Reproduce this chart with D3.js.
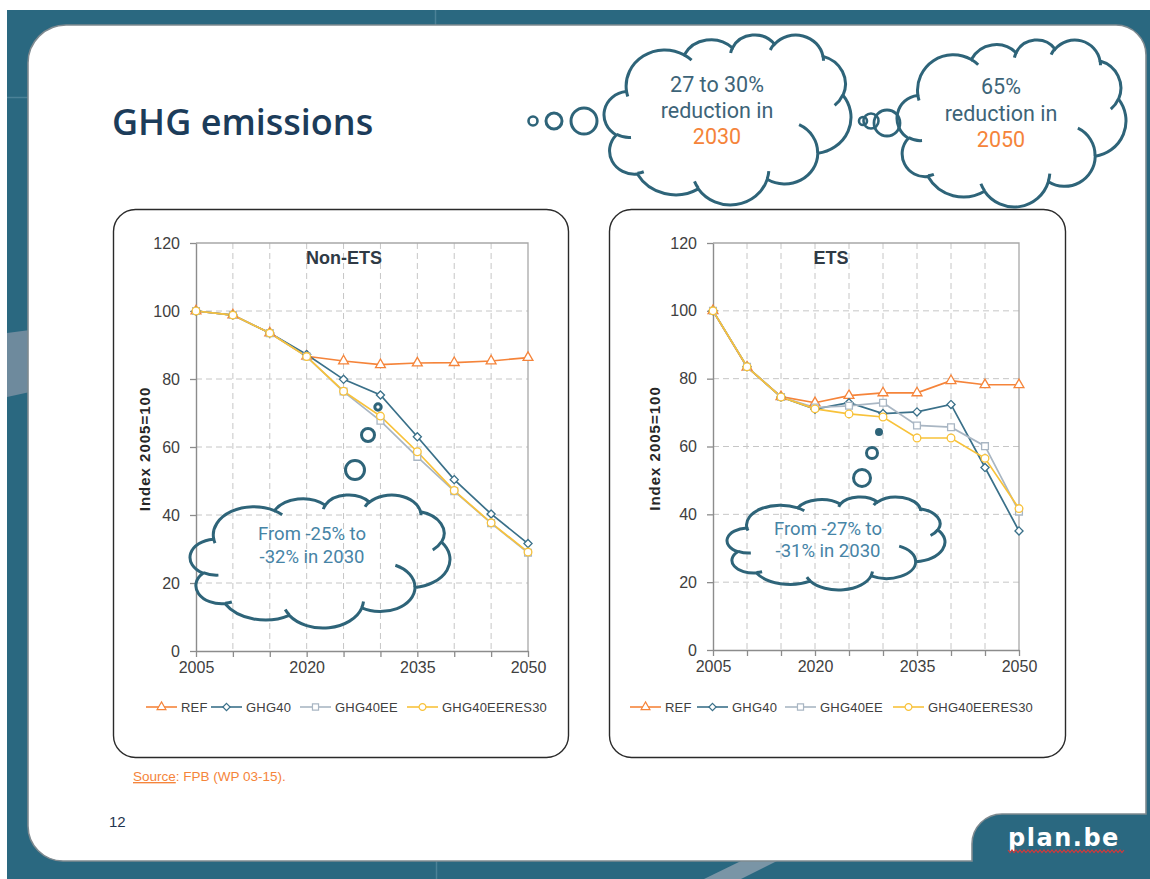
<!DOCTYPE html>
<html><head><meta charset="utf-8">
<script src="https://cdn.jsdelivr.net/npm/d3@7"></script>
<style>body{margin:0;background:#fff}svg{display:block}</style>
</head><body>
<svg id="c" width="1150" height="879"></svg>
<script>
// ---------------- DATA ----------------
const years = ["2005","2010","2015","2020","2025","2030","2035","2040","2045","2050"];
const xTickLabels = ["2005","2020","2035","2050"];
const yTicks = [0,20,40,60,80,100,120];
const seriesNames = ["REF","GHG40","GHG40EE","GHG40EERES30"];

const nonEtsREF          = [100, 98.8, 93.5, 86.7, 85.3, 84.2, 84.7, 84.8, 85.3, 86.3];
const nonEtsGHG40        = [100, 98.8, 93.5, 87.2, 79.9, 75.3, 63.0, 50.4, 40.3, 31.6];
const nonEtsGHG40EE      = [100, 98.8, 93.5, 86.6, 76.3, 67.7, 57.1, 47.0, 37.6, 28.9];
const nonEtsGHG40EERES30 = [100, 98.8, 93.5, 86.6, 76.4, 69.1, 58.6, 47.2, 37.7, 29.1];

const etsREF             = [100, 83.4, 74.7, 72.9, 75.0, 75.8, 75.8, 79.4, 78.2, 78.2];
const etsGHG40           = [100, 83.5, 74.6, 71.0, 72.9, 69.7, 70.2, 72.4, 53.8, 35.1];
const etsGHG40EE         = [100, 83.5, 74.6, 71.5, 72.0, 72.9, 66.2, 65.7, 60.1, 40.8];
const etsGHG40EERES30    = [100, 83.5, 74.6, 71.1, 69.6, 68.7, 62.5, 62.5, 56.5, 41.7];

const chartTitles = ["Non-ETS", "ETS"];
const yAxisTitle = "Index 2005=100";
const pageTitle = "GHG emissions";
const nonEtsNote = ["From -25% to", "-32% in 2030"];
const etsNote = ["From -27% to", "-31% in 2030"];
const cloud2030 = ["27 to 30%", "reduction in", "2030"];
const cloud2050 = ["65%", "reduction in", "2050"];

// ---------------- STYLE ----------------
const TEAL = "#2a6880";
const CLOUD_STROKE = "#2e6479";
const colors = {REF:"#f5843a", GHG40:"#3a7089", GHG40EE:"#a9b6c3", GHG40EERES30:"#f8c23a"};
const symbols = {REF:d3.symbolTriangle, GHG40:(d3.symbolDiamond2||d3.symbolDiamond), GHG40EE:d3.symbolSquare, GHG40EERES30:d3.symbolCircle};
const symSize = {REF:42, GHG40:42, GHG40EE:46, GHG40EERES30:46};

const svg = d3.select("#c");

// ---------------- BACKGROUND ----------------
svg.append("rect").attr("x",0).attr("y",0).attr("width",1150).attr("height",879).attr("fill","#fff");
svg.append("rect").attr("x",7).attr("y",10).attr("width",1143).attr("height",869).attr("fill",TEAL);
svg.append("path").attr("d","M7,333 L30,330 L30,392 L7,397 Z").attr("fill","#6e8a9d");
svg.append("line").attr("x1",7).attr("x2",30).attr("y1",97.5).attr("y2",97.5).attr("stroke","#4b8197").attr("stroke-width",1.5);
svg.append("line").attr("x1",435.5).attr("x2",435.5).attr("y1",10).attr("y2",26).attr("stroke","#4b8197").attr("stroke-width",1.5);
svg.append("line").attr("x1",436.5).attr("x2",436.5).attr("y1",860).attr("y2",879).attr("stroke","#4b8197").attr("stroke-width",1.5);
svg.append("path").attr("d","M741,861 L777,861 L741,879 L704,879 Z").attr("fill","#7a95a6");

// card
(function(){
  const L=28, T=25, R=1146, B=861, rTL=38, rTR=30, rBL=35, tabX=972, tabY=814, rT=30;
  const d = `M${L},${T+rTL} A${rTL},${rTL} 0 0 1 ${L+rTL},${T} L${R-rTR},${T} A${rTR},${rTR} 0 0 1 ${R},${T+rTR}
   L${R},${tabY} L${tabX+rT},${tabY} A${rT},${rT} 0 0 0 ${tabX},${tabY+rT} L${tabX},${B} L${L+rBL},${B}
   A${rBL},${rBL} 0 0 1 ${L},${B-rBL} Z`;
  svg.append("path").attr("d",d).attr("fill","#fff").attr("stroke","#7f8a90").attr("stroke-width",1.6);
})();

svg.append("text").attr("x",112).attr("y",135).text(pageTitle)
  .attr("font-family","'Open Sans', sans-serif").attr("font-weight",600).attr("font-size",36)
  .attr("fill","#1c3c5a");

// ---------------- CLOUD SHAPE ----------------
const CLOUD_MAIN = [[6753,9190,-11429249,7426832],[5333,7267,-8646143,5396714],[4365,5945,-8748475,5983381],
 [4857,6595,-7859164,7034504],[5333,7273,-4722533,6541615],[6775,9220,-2776035,7816140],[5785,7867,37501,6842000],
 [6752,9215,1347096,6910353],[7720,10543,3974558,4542661],[4360,5918,-16496525,8804134],[4345,5945,-14809710,9151131]];
const CLOUD_FOLDS = [[4693,26177,4345,5945,5204520,1585770],[6928,34899,4360,5918,4416628,686848],
 [16478,39090,6752,9215,8257449,844866],[28827,34751,6752,9215,387196,959901],[34129,22954,5785,7867,-4217541,4255042],
 [41798,15354,5333,7273,1819082,1665090],[38324,5426,4857,6595,-824660,891534],[29078,3952,4857,6595,-8950887,1091722],
 [22141,4720,4365,5945,-9809656,1061181],[14000,5192,6753,9190,-4002417,739161],[4127,15789,6753,9190,9459261,711490]];
function arcSeg(px,py,wR,hR,st,sw){
  const a1=st/60000*Math.PI/180, a2=(st+sw)/60000*Math.PI/180;
  const t1=Math.atan2(wR*Math.sin(a1), hR*Math.cos(a1));
  const t2=Math.atan2(wR*Math.sin(a2), hR*Math.cos(a2));
  const cx=px-wR*Math.cos(t1), cy=py-hR*Math.sin(t1);
  const ex=cx+wR*Math.cos(t2), ey=cy+hR*Math.sin(t2);
  const large=Math.abs(sw/60000)>180?1:0, sweep=sw>0?1:0;
  return {d:`A${wR},${hR} 0 ${large} ${sweep} ${ex.toFixed(1)},${ey.toFixed(1)}`, x:ex, y:ey};
}
function cloudMainD(){
  let x=3900,y=14370,d=`M${x},${y}`;
  for(const a of CLOUD_MAIN){const s=arcSeg(x,y,...a); d+=s.d; x=s.x; y=s.y;}
  return d+"Z";
}
function cloudFoldD(){
  let d="";
  for(const f of CLOUD_FOLDS){const s=arcSeg(f[0],f[1],f[2],f[3],f[4],f[5]); d+=`M${f[0]},${f[1]}`+s.d;}
  return d;
}
function drawCloud(box, fill, sw){
  const g = svg.append("g");
  const main = g.append("path").attr("d",cloudMainD()).attr("fill",fill).attr("stroke",CLOUD_STROKE)
     .attr("stroke-width",sw).attr("vector-effect","non-scaling-stroke");
  g.append("path").attr("d",cloudFoldD()).attr("fill","none").attr("stroke",CLOUD_STROKE)
     .attr("stroke-width",sw).attr("vector-effect","non-scaling-stroke");
  const bb = main.node().getBBox();
  const sx = box.w/bb.width, sy = box.h/bb.height;
  g.attr("transform",`translate(${box.x - bb.x*sx},${box.y - bb.y*sy}) scale(${sx},${sy})`);
  return g;
}
function bubble(cx,cy,r,sw,fill){
  svg.append("circle").attr("cx",cx).attr("cy",cy).attr("r",r).attr("fill",fill||"none")
    .attr("stroke",CLOUD_STROKE).attr("stroke-width",sw);
}

// ---------------- PANELS ----------------
svg.append("rect").attr("x",113.5).attr("y",209.5).attr("width",455).attr("height",548).attr("rx",22)
  .attr("fill","#fff").attr("stroke","#2a2a2a").attr("stroke-width",1.4);
svg.append("rect").attr("x",609.5).attr("y",209.5).attr("width",456).attr("height",548).attr("rx",22)
  .attr("fill","#fff").attr("stroke","#2a2a2a").attr("stroke-width",1.4);

// ---------------- CHARTS ----------------
const FONT = "'Liberation Sans', Arial, sans-serif";
function drawChart(cfg){
  const g = svg.append("g");
  const x = d3.scalePoint().domain(years).range([cfg.x0, cfg.x1]);
  const y = d3.scaleLinear().domain([0,120]).range([cfg.yb, cfg.yt]);
  g.selectAll(".hg").data(yTicks.filter(v=>v>0&&v<120)).join("line")
    .attr("x1",cfg.x0).attr("x2",cfg.x1).attr("y1",d=>y(d)).attr("y2",d=>y(d))
    .attr("stroke","#c6c6c6").attr("stroke-width",1).attr("stroke-dasharray","6,4");
  g.selectAll(".vg").data(years.slice(1,-1)).join("line")
    .attr("x1",d=>x(d)).attr("x2",d=>x(d)).attr("y1",cfg.yt).attr("y2",cfg.yb)
    .attr("stroke","#c6c6c6").attr("stroke-width",1).attr("stroke-dasharray","6,4");
  g.append("path").attr("d",`M${cfg.x0},${y(120)}H${cfg.x1}V${cfg.yb}`).attr("fill","none")
    .attr("stroke","#a8a8a8").attr("stroke-width",1.3);
  const ya = g.append("g").attr("transform",`translate(${cfg.x0},0)`)
    .call(d3.axisLeft(y).tickValues(yTicks).tickSize(6).tickSizeOuter(0).tickPadding(10));
  const xa = g.append("g").attr("transform",`translate(0,${cfg.yb})`)
    .call(d3.axisBottom(x).tickSize(6).tickSizeOuter(0).tickPadding(5)
      .tickFormat(d=>xTickLabels.includes(d)?d:""));
  [ya,xa].forEach(a=>{
    a.select(".domain").attr("stroke","#8c8c8c").attr("stroke-width",1.4);
    a.selectAll(".tick line").attr("stroke","#8c8c8c").attr("stroke-width",1.3);
    a.selectAll("text").attr("font-family",FONT).attr("font-size",16).attr("fill","#404040");
  });
  g.append("text").attr("x",cfg.titleX).attr("y",264).attr("text-anchor","middle").text(cfg.title)
    .attr("font-family",FONT).attr("font-weight","bold").attr("font-size",18).attr("fill","#2f3a45");
  g.append("text").attr("transform",`translate(${cfg.ytitleX},${(cfg.yt+cfg.yb)/2+2}) rotate(-90)`)
    .attr("text-anchor","middle").attr("dy","0.35em").text(yAxisTitle)
    .attr("font-family",FONT).attr("font-weight","bold").attr("font-size",15).attr("letter-spacing",1)
    .attr("fill","#262626");
  const line = d3.line().x((d,i)=>x(years[i])).y(d=>y(d));
  cfg.series.forEach((vals,k)=>{
    const name = seriesNames[k];
    g.append("path").datum(vals).attr("d",line).attr("fill","none")
      .attr("stroke",colors[name]).attr("stroke-width",1.7);
  });
  cfg.series.forEach((vals,k)=>{
    const name = seriesNames[k];
    g.selectAll(".m"+k).data(vals).join("path")
      .attr("transform",(d,i)=>`translate(${x(years[i])},${y(d)})`)
      .attr("d",d3.symbol().type(symbols[name]).size(symSize[name]))
      .attr("fill","#fff").attr("stroke",colors[name]).attr("stroke-width",1.3);
  });
  seriesNames.forEach((name,k)=>{
    const lx = cfg.legendX[k], ly = 707;
    g.append("line").attr("x1",lx).attr("x2",lx+31).attr("y1",ly).attr("y2",ly)
      .attr("stroke",colors[name]).attr("stroke-width",1.6);
    g.append("path").attr("transform",`translate(${lx+15.5},${ly})`)
      .attr("d",d3.symbol().type(symbols[name]).size(symSize[name]*0.8))
      .attr("fill","#fff").attr("stroke",colors[name]).attr("stroke-width",1.2);
    g.append("text").attr("x",lx+35).attr("y",ly).attr("dy","0.35em").text(name)
      .attr("font-family",FONT).attr("font-size",13).attr("letter-spacing",0.2).attr("fill","#404040");
  });
}

drawChart({x0:196, x1:528, yb:651, yt:243, title:chartTitles[0], titleX:344, ytitleX:145,
  series:[nonEtsREF, nonEtsGHG40, nonEtsGHG40EE, nonEtsGHG40EERES30],
  legendX:[146, 211, 300, 407]});
drawChart({x0:713, x1:1019, yb:650, yt:243, title:chartTitles[1], titleX:831, ytitleX:655,
  series:[etsREF, etsGHG40, etsGHG40EE, etsGHG40EERES30],
  legendX:[630, 697, 785, 893]});

// ---------------- ANNOTATION CLOUDS ----------------
function cloudText(lines, cx, y0, lh, size, color, family, hiColor){
  const t = svg.append("text").attr("text-anchor","middle").attr("font-family",family).attr("font-size",size);
  lines.forEach((s,i)=>{
    t.append("tspan").attr("x",cx).attr("y",y0+i*lh).text(s)
      .attr("fill",(hiColor && i===lines.length-1)?hiColor:color);
  });
}
const CF = "Roboto, 'Liberation Sans', sans-serif";
drawCloud({x:190,y:495,w:260,h:133},"none",3);
bubble(378,407,3.2,3);
bubble(368,435,6.5,3);
bubble(355,470,9.5,3);
cloudText(nonEtsNote, 312, 540, 23, 18.5, "#4684a6", CF);

drawCloud({x:727,y:497,w:218,h:93},"none",3);
bubble(879,432,2.6,2.8,CLOUD_STROKE);
bubble(872,453,5.5,3);
bubble(862,478,8.5,3);
cloudText(etsNote, 828, 535, 22, 18.5, "#4684a6", CF);

drawCloud({x:604,y:35,w:247,h:170},"#fff",3);
bubble(533,121,4.5,2.6);
bubble(554,121,8,3);
bubble(584,121,13,3);
cloudText(cloud2030, 717, 92, 26, 21.5, "#3d6478", CF, "#f5843a");

drawCloud({x:897,y:40,w:229,h:167},"#fff",3);
bubble(863,121,4,2.6);
bubble(871,121,7.5,2.6);
bubble(887,123,13,2.8);
cloudText(cloud2050, 1001, 94, 26.5, 21.5, "#3d6478", CF, "#f5843a");

// ---------------- FOOTER ----------------
const src = svg.append("text").attr("x",133).attr("y",781).attr("font-family",FONT).attr("font-size",13.5).attr("fill","#f5843a");
src.append("tspan").text("Source").attr("text-decoration","underline");
src.append("tspan").text(": FPB (WP 03-15).");
svg.append("text").attr("x",109).attr("y",827).text("12").attr("font-family",FONT).attr("font-size",15).attr("fill","#1f3550");
svg.append("text").attr("x",1064).attr("y",846).attr("text-anchor","middle").text("plan.be")
  .attr("font-family","'DejaVu Sans', sans-serif").attr("font-weight","bold").attr("font-size",24)
  .attr("letter-spacing",1.5).attr("fill","#fff");
(function(){
  let d="M1008,850"; for(let xx=1008; xx<1122; xx+=4){ d+=` L${xx+2},852.5 L${xx+4},850`; }
  svg.append("path").attr("d",d).attr("fill","none").attr("stroke","#d23a3a").attr("stroke-width",1.2);
})();
</script>
</body></html>
